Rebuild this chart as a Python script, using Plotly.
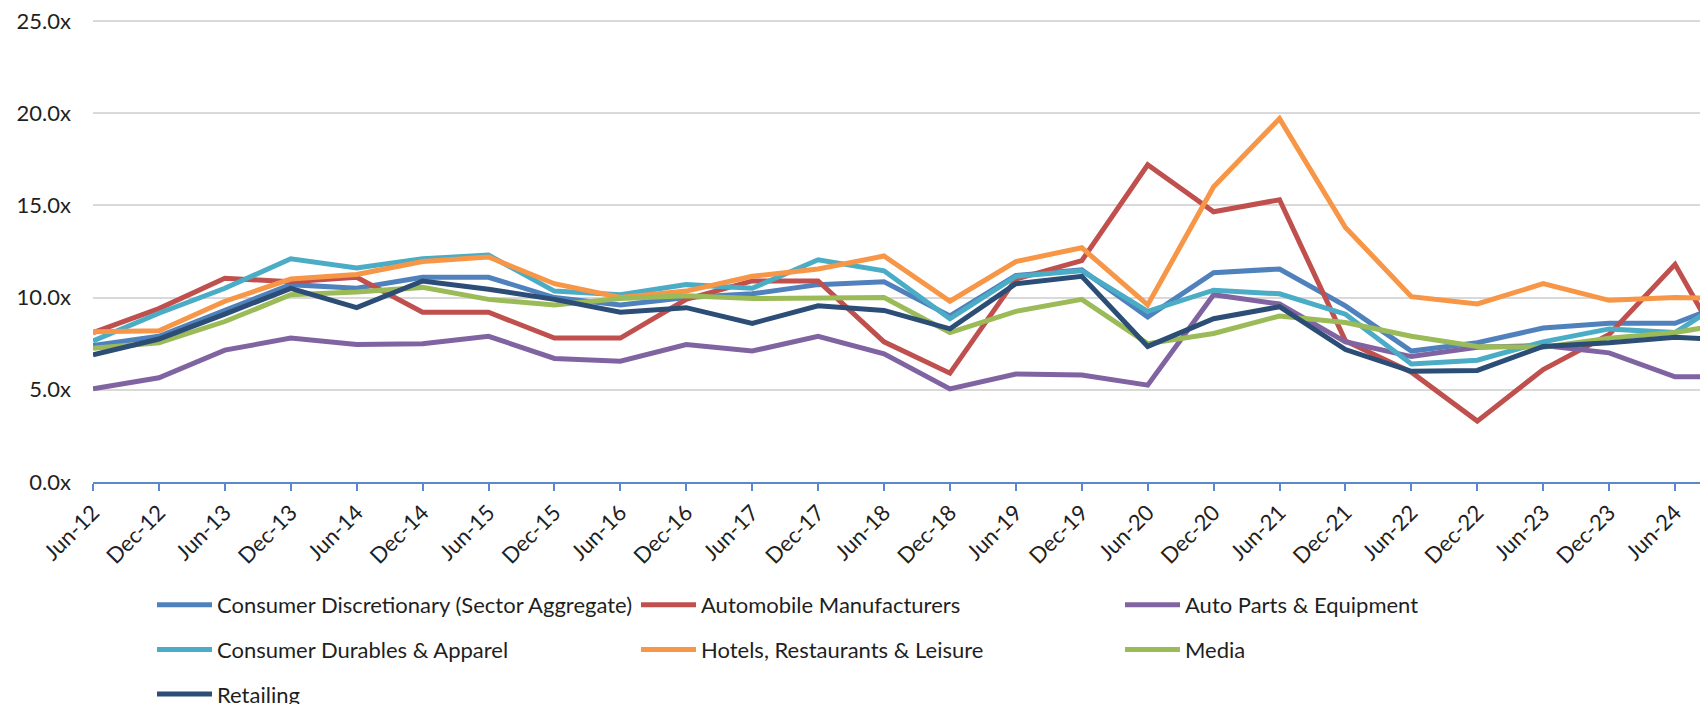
import plotly.graph_objects as go

dates = ["Jun-12", "Dec-12", "Jun-13", "Dec-13", "Jun-14", "Dec-14", "Jun-15", "Dec-15",
         "Jun-16", "Dec-16", "Jun-17", "Dec-17", "Jun-18", "Dec-18", "Jun-19", "Dec-19",
         "Jun-20", "Dec-20", "Jun-21", "Dec-21", "Jun-22", "Dec-22", "Jun-23", "Dec-23",
         "Jun-24", "Dec-24"]

consumer_discretionary = [7.4, 7.9, 9.3, 10.7, 10.5, 11.1, 11.1, 10.0, 9.6, 10.0, 10.2, 10.7, 10.85,
                          9.0, 11.2, 11.5, 8.95, 11.35, 11.55, 9.55, 7.1, 7.55, 8.35, 8.6, 8.6, 10.0]
automobile_manufacturers = [8.1, 9.4, 11.05, 10.85, 11.1, 9.2, 9.2, 7.8, 7.8, 9.9, 10.9, 10.9, 7.6,
                            5.9, 11.0, 12.0, 17.2, 14.65, 15.3, 7.65, 5.95, 3.3, 6.1, 8.0, 11.8, 5.5]
auto_parts = [5.05, 5.65, 7.15, 7.8, 7.45, 7.5, 7.9, 6.7, 6.55, 7.45, 7.1, 7.9, 6.95,
              5.05, 5.85, 5.8, 5.25, 10.15, 9.65, 7.6, 6.8, 7.3, 7.4, 7.0, 5.7, 5.7]
consumer_durables = [7.65, 9.15, 10.5, 12.1, 11.6, 12.1, 12.3, 10.35, 10.15, 10.7, 10.5, 12.05, 11.45,
                     8.85, 11.15, 11.45, 9.25, 10.4, 10.2, 9.1, 6.4, 6.6, 7.6, 8.3, 8.1, 10.4]
hotels = [8.15, 8.2, 9.8, 11.0, 11.25, 11.95, 12.2, 10.75, 10.0, 10.35, 11.15, 11.55, 12.25,
          9.8, 11.95, 12.7, 9.6, 16.0, 19.7, 13.8, 10.05, 9.65, 10.75, 9.85, 10.0, 9.95]
media = [7.25, 7.55, 8.7, 10.15, 10.3, 10.55, 9.9, 9.6, 9.95, 10.1, 9.95, 9.95, 10.0,
         8.1, 9.25, 9.9, 7.5, 8.05, 9.0, 8.65, 7.9, 7.35, 7.3, 7.8, 8.1, 8.7]
retailing = [6.9, 7.75, 9.1, 10.5, 9.45, 10.9, 10.45, 9.9, 9.2, 9.45, 8.6, 9.55, 9.3,
             8.3, 10.75, 11.15, 7.35, 8.85, 9.5, 7.18, 6.0, 6.05, 7.35, 7.55, 7.85, 7.65]

series = [
    ("Consumer Discretionary (Sector Aggregate)", consumer_discretionary, "#4F81BD", "legend"),
    ("Automobile Manufacturers", automobile_manufacturers, "#C0504D", "legend2"),
    ("Auto Parts & Equipment", auto_parts, "#8064A2", "legend3"),
    ("Consumer Durables & Apparel", consumer_durables, "#4BACC6", "legend"),
    ("Hotels, Restaurants & Leisure", hotels, "#F79646", "legend2"),
    ("Media", media, "#9BBB59", "legend3"),
    ("Retailing", retailing, "#2C4D75", "legend"),
]

# The page body has an 8px default margin: work in window pixels, then offset.
OFF = 8
VW, VH = 1708, 704
W, H = VW - OFF, VH - OFF
Y_TOP = 25.1
PLOT_L, PLOT_R, PLOT_B = 93, 1708, 482          # window pixels
PLOT_T = round(PLOT_B - Y_TOP * (PLOT_B - 20.5) / 25)
ML, MR, MT, MB = PLOT_L - OFF, VW - PLOT_R, PLOT_T - OFF, VH - PLOT_B
PW, PH = W - ML - MR, H - MT - MB
FONT = "Lato"
FS = 22
TXT = "#1f1f1f"

fig = go.Figure()
for i, (name, vals, color, leg) in enumerate(series):
    fig.add_trace(go.Scatter(
        x=dates, y=vals, name=name, mode="lines",
        line=dict(color=color, width=5),
        legend=leg, legendgroup="g%d" % i,
    ))


def px_x(px):
    return (px - PLOT_L) / PW


def px_y(py):
    return (PLOT_B - py) / PH


ITEMW = 55
TEXT_OFF = ITEMW + 10
legend_common = dict(
    xref="paper", yref="paper", yanchor="top", xanchor="left",
    orientation="v", traceorder="grouped", tracegroupgap=13, itemwidth=ITEMW,
    font=dict(family=FONT, size=FS, color=TXT), bgcolor="rgba(0,0,0,0)",
    itemclick=False, itemdoubleclick=False,
)
top = px_y(584)
fig.update_layout(
    width=W, height=H,
    margin=dict(l=ML, r=MR, t=MT, b=MB, pad=0, autoexpand=False),
    paper_bgcolor="white", plot_bgcolor="white",
    font=dict(family=FONT, size=FS, color=TXT),
    showlegend=True,
    legend=dict(x=px_x(217 - TEXT_OFF), y=top, **legend_common),
    legend2=dict(x=px_x(701 - TEXT_OFF), y=top, **legend_common),
    legend3=dict(x=px_x(1185 - TEXT_OFF), y=top, **legend_common),
    xaxis=dict(
        type="category", range=[0, 24.5], showgrid=False, zeroline=False,
        showline=True, linecolor="#5B89C7", linewidth=2,
        ticks="outside", ticklen=7, tickwidth=2, tickcolor="#5B89C7",
        tickangle=-45, tickfont=dict(family=FONT, size=FS, color=TXT),
        ticklabeloverflow="allow",
    ),
    yaxis=dict(
        range=[0, Y_TOP], tickmode="linear", tick0=0, dtick=5,
        tickformat=".1f", ticksuffix="x", showticksuffix="all",
        showgrid=True, gridcolor="#D9D9D9", gridwidth=2, zeroline=False,
        showline=False, ticks="", ticklabelstandoff=21,
        ticklabeloverflow="allow",
        tickfont=dict(family=FONT, size=FS, color=TXT),
    ),
)

fig.write_html("out.html")
